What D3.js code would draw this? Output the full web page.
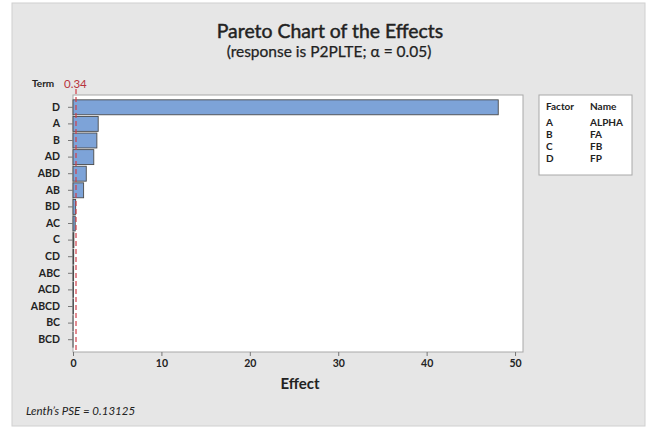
<!DOCTYPE html>
<html>
<head>
<meta charset="utf-8">
<script src="https://cdn.jsdelivr.net/npm/d3@7"></script>
<style>
  html, body { margin: 0; padding: 0; background: #ffffff; }
  svg { display: block; }
  text { font-family: Lato, "Open Sans", sans-serif; fill: #222; }
</style>
</head>
<body>
<svg id="chart" width="653" height="428"></svg>
<script>
// Absolute standardized effects, sorted largest first
const terms   = ["D", "A", "B", "AD", "ABD", "AB", "BD", "AC", "C", "CD", "ABC", "ACD", "ABCD", "BC", "BCD"];
const effects = [48.1, 2.85, 2.7, 2.35, 1.5, 1.2, 0.3, 0.25, 0.1, 0.08, 0.07, 0.06, 0.05, 0.01, 0.005];
const xTicks  = [0, 10, 20, 30, 40, 50];
const refLine = 0.34;
const factorCodes = ["A", "B", "C", "D"];
const factorNames = ["ALPHA", "FA", "FB", "FP"];

const svg = d3.select("#chart");

// panel background
svg.append("rect").attr("x", 12).attr("y", 3).attr("width", 633).attr("height", 423)
  .attr("fill", "#e6e6e6").attr("stroke", "#d0d0d0");

const plot = { left: 73, right: 523, top: 95, bottom: 352 };

const x = d3.scaleLinear().domain([0, 50.9]).range([plot.left, plot.right]);
const y = d3.scaleBand().domain(terms).range([plot.top + 4, plot.bottom - 4]).paddingInner(0.1).paddingOuter(0.05);

// plot area
svg.append("rect").attr("x", plot.left).attr("y", plot.top)
  .attr("width", plot.right - plot.left).attr("height", plot.bottom - plot.top)
  .attr("fill", "#ffffff").attr("stroke", "#a8a8a8");

// bars
svg.append("g").selectAll("rect").data(terms).join("rect")
  .attr("x", x(0))
  .attr("y", d => y(d))
  .attr("width", (d, i) => x(effects[i]) - x(0))
  .attr("height", y.bandwidth())
  .attr("fill", "#7da3d8")
  .attr("stroke", "#4a4a4a")
  .attr("stroke-width", 0.9);

// reference line
svg.append("line")
  .attr("x1", x(refLine)).attr("x2", x(refLine))
  .attr("y1", plot.top - 6).attr("y2", plot.bottom)
  .attr("stroke", "#d0404a").attr("stroke-width", 1.2)
  .attr("stroke-dasharray", "5,3");

svg.append("text").attr("x", x(refLine) - 12).attr("y", 88)
  .attr("font-size", 11.5).style("fill", "#b8333d").text("0.34");

svg.append("text").attr("x", 32).attr("y", 87)
  .attr("font-size", 10).attr("font-weight", "bold").text("Term");

// y axis
const yAxis = svg.append("g").attr("transform", `translate(${plot.left},0)`)
  .call(d3.axisLeft(y).tickSize(5).tickPadding(8));
yAxis.select(".domain").remove();
yAxis.selectAll(".tick line").attr("stroke", "#777");
yAxis.selectAll("text").attr("font-size", 10.5).attr("font-weight", "bold")
  .style("font-family", "Lato, 'Open Sans', sans-serif").style("fill", "#222");

// x axis
const xAxis = svg.append("g").attr("transform", `translate(0,${plot.bottom})`)
  .call(d3.axisBottom(x).tickValues(xTicks).tickSize(4).tickPadding(4));
xAxis.select(".domain").remove();
xAxis.selectAll(".tick line").attr("stroke", "#777");
xAxis.selectAll("text").attr("font-size", 10.5).attr("font-weight", "bold")
  .style("font-family", "Lato, 'Open Sans', sans-serif").style("fill", "#222");

svg.append("text").attr("x", (plot.left + plot.right) / 2 + 2).attr("y", 389)
  .attr("text-anchor", "middle").attr("font-size", 15).attr("font-weight", "bold").text("Effect");

// titles (regular weight with a thin outline for a semibold look)
svg.append("text").attr("x", 330).attr("y", 38).attr("text-anchor", "middle")
  .attr("font-size", 19.4).style("stroke", "#222").style("stroke-width", 0.45)
  .text("Pareto Chart of the Effects");
svg.append("text").attr("x", 329).attr("y", 57).attr("text-anchor", "middle")
  .attr("font-size", 15.5).style("stroke", "#222").style("stroke-width", 0.25)
  .text("(response is P2PLTE; \u03b1 = 0.05)");

// footnote
svg.append("text").attr("x", 26).attr("y", 415).attr("font-size", 11.5)
  .attr("font-style", "italic").text("Lenth\u2019s PSE = 0.13125");

// factor legend
const lg = svg.append("g").attr("transform", "translate(539,95)");
lg.append("rect").attr("width", 93).attr("height", 80).attr("fill", "#ffffff").attr("stroke", "#a8a8a8");
lg.append("text").attr("x", 7).attr("y", 15).attr("font-size", 10).attr("font-weight", "bold").text("Factor");
lg.append("text").attr("x", 51).attr("y", 15).attr("font-size", 10).attr("font-weight", "bold").text("Name");
lg.selectAll(".code").data(factorCodes).join("text").attr("class", "code")
  .attr("x", 7).attr("y", (d, i) => 30.5 + i * 12).attr("font-size", 10).attr("font-weight", "bold").text(d => d);
lg.selectAll(".name").data(factorNames).join("text").attr("class", "name")
  .attr("x", 51).attr("y", (d, i) => 30.5 + i * 12).attr("font-size", 10).attr("font-weight", "bold").text(d => d);
</script>
</body>
</html>
